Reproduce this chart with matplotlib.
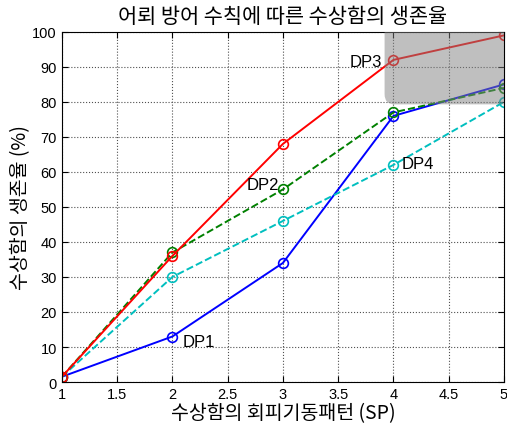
"""Survival rate of surface ship by torpedo defence doctrine."""

import matplotlib
matplotlib.use("Agg")
import matplotlib.pyplot as plt
from matplotlib.patches import FancyBboxPatch

plt.rcParams["font.family"] = ["Noto Sans CJK KR", "DejaVu Sans"]

# evasive manoeuvre pattern (SP)
sp = [1, 2, 3, 4, 5]
dp1 = [1.5, 13, 34, 76, 85]
dp2 = [1.5, 37, 55, 77, 84]
dp3 = [1.5, 36, 68, 92, 99]
dp4 = [1.5, 30, 46, 62, 80]

xticks = [1, 1.5, 2, 2.5, 3, 3.5, 4, 4.5, 5]
yticks = list(range(0, 101, 10))

fig = plt.figure(figsize=(5.07, 4.27), dpi=100)
ax = fig.add_axes([0.122, 0.103, 0.872, 0.820])

mk = dict(marker="o", markersize=7, markerfacecolor="none", markeredgewidth=1.2, linewidth=1.4)
ax.plot(sp, dp1, color="#0000ff", linestyle="-", **mk)
ax.plot(sp, dp4, color="#00bfbf", linestyle="--", **mk)
ax.plot(sp, dp2, color="#008000", linestyle="--", **mk)
ax.plot(sp, dp3, color="#ff0000", linestyle="-", **mk)

# highlighted region
box = FancyBboxPatch((3.92, 79.3), 1.3, 25, boxstyle="round,pad=0,rounding_size=0.09",
                     mutation_aspect=32, facecolor="#808080", edgecolor="none",
                     alpha=0.5, zorder=5, clip_on=True)
ax.add_patch(box)

tfont = dict(fontsize=12, family=["Liberation Sans", "DejaVu Sans"])
ax.text(2.09, 11.5, "DP1", ha="left", va="center", **tfont)
ax.text(2.97, 56.5, "DP2", ha="right", va="center", **tfont)
ax.text(3.9, 91.5, "DP3", ha="right", va="center", **tfont)
ax.text(4.07, 62.5, "DP4", ha="left", va="center", **tfont)

ax.set_xlim(1, 5)
ax.set_ylim(0, 100)
ax.set_xticks(xticks)
ax.set_xticklabels([f"{t:g}" for t in xticks])
ax.set_yticks(yticks)
for lab in ax.get_xticklabels() + ax.get_yticklabels():
    lab.set_family(["Liberation Sans", "DejaVu Sans"])
ax.tick_params(direction="in", labelsize=10.5, top=True, right=True, length=4)
ax.grid(True, linestyle=":", color="#505050", linewidth=0.8)

ax.set_title("어뢰 방어 수칙에 따른 수상함의 생존율", fontsize=15, pad=7)
ax.set_xlabel("수상함의 회피기동패턴 (SP)", fontsize=14, labelpad=1)
ax.set_ylabel("수상함의 생존율 (%)", fontsize=14, labelpad=1)

fig.savefig("out.png", dpi=100)
